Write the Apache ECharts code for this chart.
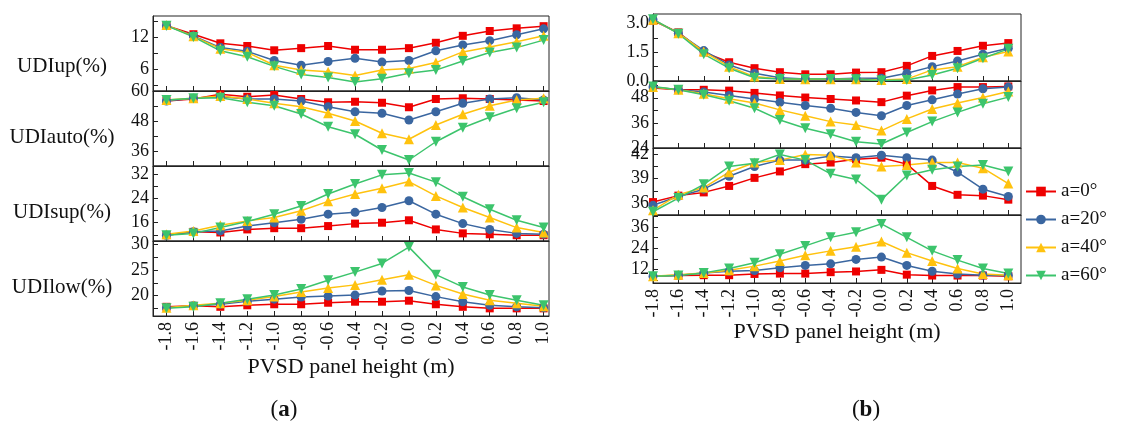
<!DOCTYPE html>
<html>
<head>
<meta charset="utf-8">
<script src="https://cdn.jsdelivr.net/npm/echarts@6/dist/echarts.min.js"></script>
<style>
html, body { margin: 0; padding: 0; background: #fff; }
#chart { width: 1130px; height: 429px; }
</style>
</head>
<body>
<div id="chart"></div>
<script>
// panel height (m)
const heights = [-1.8, -1.6, -1.4, -1.2, -1.0, -0.8, -0.6, -0.4, -0.2, 0.0, 0.2, 0.4, 0.6, 0.8, 1.0]
const angles = ['a=0°', 'a=20°', 'a=40°', 'a=60°']

// (a) rows: a=0, 20, 40, 60
const aUp = [
    [14.2, 12.6, 10.9, 10.4, 9.6, 10.0, 10.4, 9.7, 9.7, 10.0, 11.0, 12.3, 13.2, 13.7, 14.1],
    [14.2, 12.3, 10.1, 9.4, 7.7, 6.8, 7.5, 8.1, 7.4, 7.7, 9.5, 10.6, 11.4, 12.5, 13.6],
    [14.3, 12.2, 9.9, 9.2, 6.8, 5.9, 5.6, 4.9, 5.9, 6.2, 7.3, 9.3, 10.2, 11.2, 12.3],
    [14.2, 12.1, 9.5, 8.4, 6.6, 5.1, 4.5, 3.7, 4.3, 5.3, 5.9, 7.6, 9.2, 10.1, 11.5]
]
const aAuto = [
    [56.0, 56.8, 58.7, 57.7, 58.4, 56.8, 55.5, 55.7, 55.3, 53.5, 56.8, 57.1, 56.8, 56.4, 56.0],
    [56.0, 57.1, 57.7, 56.8, 56.8, 56.0, 53.7, 51.7, 51.1, 48.4, 51.7, 55.1, 56.8, 57.3, 56.4],
    [56.4, 57.1, 58.0, 56.8, 55.1, 53.7, 51.1, 48.0, 43.1, 40.7, 46.4, 50.7, 54.1, 56.4, 57.1],
    [56.4, 57.1, 57.3, 55.5, 54.1, 50.8, 45.7, 42.7, 36.4, 32.4, 39.7, 45.3, 49.5, 53.1, 55.5]
]
const aSup = [
    [11.9, 13.0, 12.8, 13.8, 14.2, 14.2, 14.9, 15.7, 16.0, 16.8, 13.8, 12.5, 12.2, 11.9, 11.9],
    [11.9, 13.0, 13.3, 14.9, 16.0, 17.1, 18.8, 19.4, 21.0, 23.2, 18.8, 15.7, 13.8, 12.5, 12.2],
    [12.2, 13.3, 15.2, 16.6, 17.7, 19.9, 23.0, 25.4, 27.3, 29.5, 24.8, 21.0, 17.7, 14.4, 12.8],
    [11.9, 12.5, 14.4, 16.4, 18.8, 21.5, 25.4, 28.7, 31.7, 32.3, 29.3, 24.5, 20.4, 16.8, 14.4]
]
const aLow = [
    [17.8, 18.0, 17.8, 18.1, 18.3, 18.3, 18.6, 18.8, 18.8, 19.0, 18.3, 17.8, 17.5, 17.5, 17.5],
    [17.6, 18.0, 18.3, 18.9, 19.3, 19.7, 19.9, 20.1, 20.9, 21.0, 19.8, 18.8, 18.1, 17.8, 17.6],
    [17.6, 18.1, 18.5, 19.1, 19.8, 20.7, 21.5, 22.1, 23.1, 24.1, 22.0, 20.3, 19.1, 18.5, 17.9],
    [17.5, 17.8, 18.5, 19.3, 20.1, 21.3, 23.0, 24.6, 26.3, 29.5, 24.1, 21.7, 20.1, 19.1, 18.1]
]

// (b)
const bUp = [
    [3.16, 2.54, 1.50, 0.98, 0.67, 0.46, 0.35, 0.35, 0.44, 0.46, 0.79, 1.31, 1.57, 1.84, 1.98],
    [3.20, 2.50, 1.59, 0.84, 0.40, 0.17, 0.10, 0.10, 0.14, 0.14, 0.40, 0.75, 1.05, 1.40, 1.71],
    [3.20, 2.50, 1.54, 0.75, 0.23, 0.10, 0.09, 0.09, 0.09, 0.05, 0.10, 0.58, 0.75, 1.24, 1.54],
    [3.23, 2.47, 1.40, 0.67, 0.17, 0.10, 0.10, 0.10, 0.09, 0.02, 0.05, 0.31, 0.67, 1.19, 1.68]
]
const bAuto = [
    [52.7, 51.8, 51.8, 51.4, 50.3, 49.1, 48.1, 47.4, 46.7, 45.9, 49.0, 51.5, 53.1, 53.1, 53.4],
    [53.1, 51.8, 50.7, 49.1, 47.4, 45.8, 44.3, 43.0, 41.0, 39.4, 44.3, 47.0, 49.8, 52.3, 53.1],
    [53.1, 51.8, 49.9, 47.5, 45.5, 42.2, 39.4, 36.6, 35.0, 32.3, 37.9, 42.6, 45.5, 48.1, 51.0],
    [53.4, 51.8, 49.4, 46.6, 43.0, 37.4, 33.4, 30.6, 27.0, 25.9, 31.4, 36.6, 41.0, 45.1, 48.3]
]
const bSup = [
    [36.1, 36.9, 37.3, 38.1, 39.1, 39.9, 40.8, 41.0, 41.4, 41.6, 40.8, 38.1, 37.0, 36.9, 36.4],
    [35.7, 36.8, 37.7, 39.3, 40.5, 41.3, 41.3, 41.8, 41.6, 41.9, 41.6, 41.3, 39.8, 37.7, 36.8],
    [35.1, 37.0, 37.9, 39.8, 41.0, 41.3, 42.0, 41.9, 41.0, 40.5, 40.7, 41.0, 41.0, 40.3, 38.4],
    [34.9, 36.6, 38.3, 40.5, 40.9, 42.0, 41.3, 39.6, 38.9, 36.4, 39.4, 40.1, 40.5, 40.7, 39.9]
]
const bLow = [
    [8.2, 8.6, 8.8, 8.8, 9.5, 9.7, 9.7, 10.5, 10.9, 11.8, 9.1, 8.6, 8.6, 8.6, 8.2],
    [8.2, 8.8, 10.1, 11.0, 11.4, 13.0, 14.3, 15.2, 17.7, 19.0, 14.3, 11.0, 9.5, 8.8, 8.6],
    [8.2, 9.1, 10.1, 11.6, 13.9, 16.8, 20.0, 22.5, 24.8, 27.8, 21.5, 16.8, 12.6, 9.5, 8.8],
    [8.2, 8.6, 10.1, 12.6, 15.8, 20.6, 25.3, 30.1, 33.0, 37.7, 30.1, 22.5, 17.3, 12.6, 9.7]
]

// y tick labels / tick marks
const aUpLabels = [6, 12], aUpTicks = [3, 6, 9, 12, 15]
const aAutoLabels = [36, 48, 60], aAutoTicks = [30, 36, 42, 48, 54, 60]
const aSupLabels = [16, 24, 32], aSupTicks = [12, 16, 20, 24, 28, 32]
const aLowLabels = [20, 25, 30], aLowTicks = [17.5, 20, 22.5, 25, 27.5, 30]
const bUpLabels = [0, 1.5, 3], bUpTicks = [0, 0.75, 1.5, 2.25, 3]
const bAutoLabels = [24, 36, 48], bAutoTicks = [24, 30, 36, 42, 48, 54]
const bSupLabels = [36, 39, 42], bSupTicks = [36, 37.5, 39, 40.5, 42]
const bLowLabels = [12, 24, 36], bLowTicks = [6, 12, 18, 24, 30, 36, 42]

const fontFamily = 'Liberation Serif'
const colors = ['#EE0000', '#3A66A0', '#FFC20E', '#3CC46C']
const symbols = ['rect', 'circle', 'triangle', 'triangle']
const symbolRotate = [0, 0, 0, 180]
const symbolSize = [8, 9, 10, 10]

const panels = [
    { rows: aUp, min: 2, max: 16, labels: aUpLabels, ticks: aUpTicks, top: 16, height: 75, side: 'a' },
    { rows: aAuto, min: 30, max: 60, labels: aAutoLabels, ticks: aAutoTicks, top: 91, height: 75, side: 'a' },
    { rows: aSup, min: 10, max: 34.6, labels: aSupLabels, ticks: aSupTicks, top: 166, height: 75, side: 'a' },
    { rows: aLow, min: 16, max: 30.7, labels: aLowLabels, ticks: aLowTicks, top: 241, height: 75, side: 'a', last: true },
    { rows: bUp, min: 0, max: 3.5, labels: bUpLabels, ticks: bUpTicks, top: 14, height: 67, side: 'b', fixed: 1 },
    { rows: bAuto, min: 24, max: 56, labels: bAutoLabels, ticks: bAutoTicks, top: 81, height: 67, side: 'b' },
    { rows: bSup, min: 34.5, max: 42.8, labels: bSupLabels, ticks: bSupTicks, top: 148, height: 67, side: 'b' },
    { rows: bLow, min: 4.4, max: 42.7, labels: bLowLabels, ticks: bLowTicks, top: 215, height: 68, side: 'b', last: true }
]

const grid = []
const xAxis = []
const yAxis = []
const series = []

panels.forEach((p, i) => {
    const isA = p.side === 'a'
    grid.push({
        left: isA ? 153 : 653,
        width: isA ? 396 : 368,
        top: p.top,
        height: p.height,
        show: true,
        borderColor: '#222',
        borderWidth: 1,
        backgroundColor: 'transparent'
    })
    xAxis.push({
        type: 'value',
        gridIndex: i,
        min: isA ? -1.9 : -1.8,
        max: isA ? 1.04 : 1.1,
        name: p.last ? 'PVSD panel height (m)' : '',
        nameLocation: 'middle',
        nameGap: isA ? 40 : 34,
        nameTextStyle: { fontFamily, fontSize: 22, color: '#111' },
        axisLine: { show: true, onZero: false, lineStyle: { color: '#222', width: 1 } },
        axisTick: {
            show: true,
            inside: true,
            length: 5,
            customValues: heights,
            lineStyle: { color: '#222' }
        },
        axisLabel: {
            show: !!p.last,
            customValues: heights,
            rotate: 90,
            margin: 6,
            fontFamily,
            fontSize: 18,
            color: '#111',
            formatter: v => v.toFixed(1)
        },
        splitLine: { show: false }
    })
    yAxis.push({
        type: 'value',
        gridIndex: i,
        min: p.min,
        max: p.max,
        axisLine: { show: true, onZero: false, lineStyle: { color: '#222', width: 1 } },
        axisTick: {
            show: true,
            inside: true,
            length: 5,
            customValues: p.ticks,
            lineStyle: { color: '#222' }
        },
        axisLabel: {
            customValues: p.labels,
            margin: 4,
            fontFamily,
            fontSize: 18,
            color: '#111',
            formatter: v => (p.fixed ? v.toFixed(p.fixed) : String(v))
        },
        splitLine: { show: false }
    })
    p.rows.forEach((row, k) => {
        series.push({
            name: angles[k],
            type: 'line',
            xAxisIndex: i,
            yAxisIndex: i,
            clip: false,
            symbol: symbols[k],
            symbolRotate: symbolRotate[k],
            symbolSize: symbolSize[k],
            color: colors[k],
            lineStyle: { color: colors[k], width: 1.5 },
            itemStyle: { color: colors[k] },
            data: row.map((v, j) => [heights[j], v])
        })
    })
})

const yNames = ['UDIup(%)', 'UDIauto(%)', 'UDIsup(%)', 'UDIlow(%)']
const yNameY = [66, 137, 212, 287]

const caption = (label, x) => ({
    type: 'text',
    x,
    y: 410,
    style: {
        text: '({b|' + label + '})',
        align: 'center',
        verticalAlign: 'middle',
        fontFamily,
        fontSize: 23,
        fill: '#111',
        rich: { b: { fontWeight: 'bold', fontFamily, fontSize: 23 } }
    }
})

const chart = echarts.init(document.getElementById('chart'), null, { renderer: 'canvas' })
chart.setOption({
    backgroundColor: '#fff',
    animation: false,
    grid,
    xAxis,
    yAxis,
    series,
    legend: {
        data: angles,
        orient: 'vertical',
        left: 1020,
        top: 177,
        itemWidth: 30,
        itemHeight: 12,
        itemGap: 9,
        textStyle: { fontFamily, fontSize: 19, color: '#111', lineHeight: 18 }
    },
    graphic: yNames.map((t, i) => ({
        type: 'text',
        x: 62,
        y: yNameY[i],
        style: {
            text: t,
            align: 'center',
            verticalAlign: 'middle',
            fontFamily,
            fontSize: 21,
            fill: '#111'
        }
    })).concat([caption('a', 284), caption('b', 866)])
})
</script>
</body>
</html>
